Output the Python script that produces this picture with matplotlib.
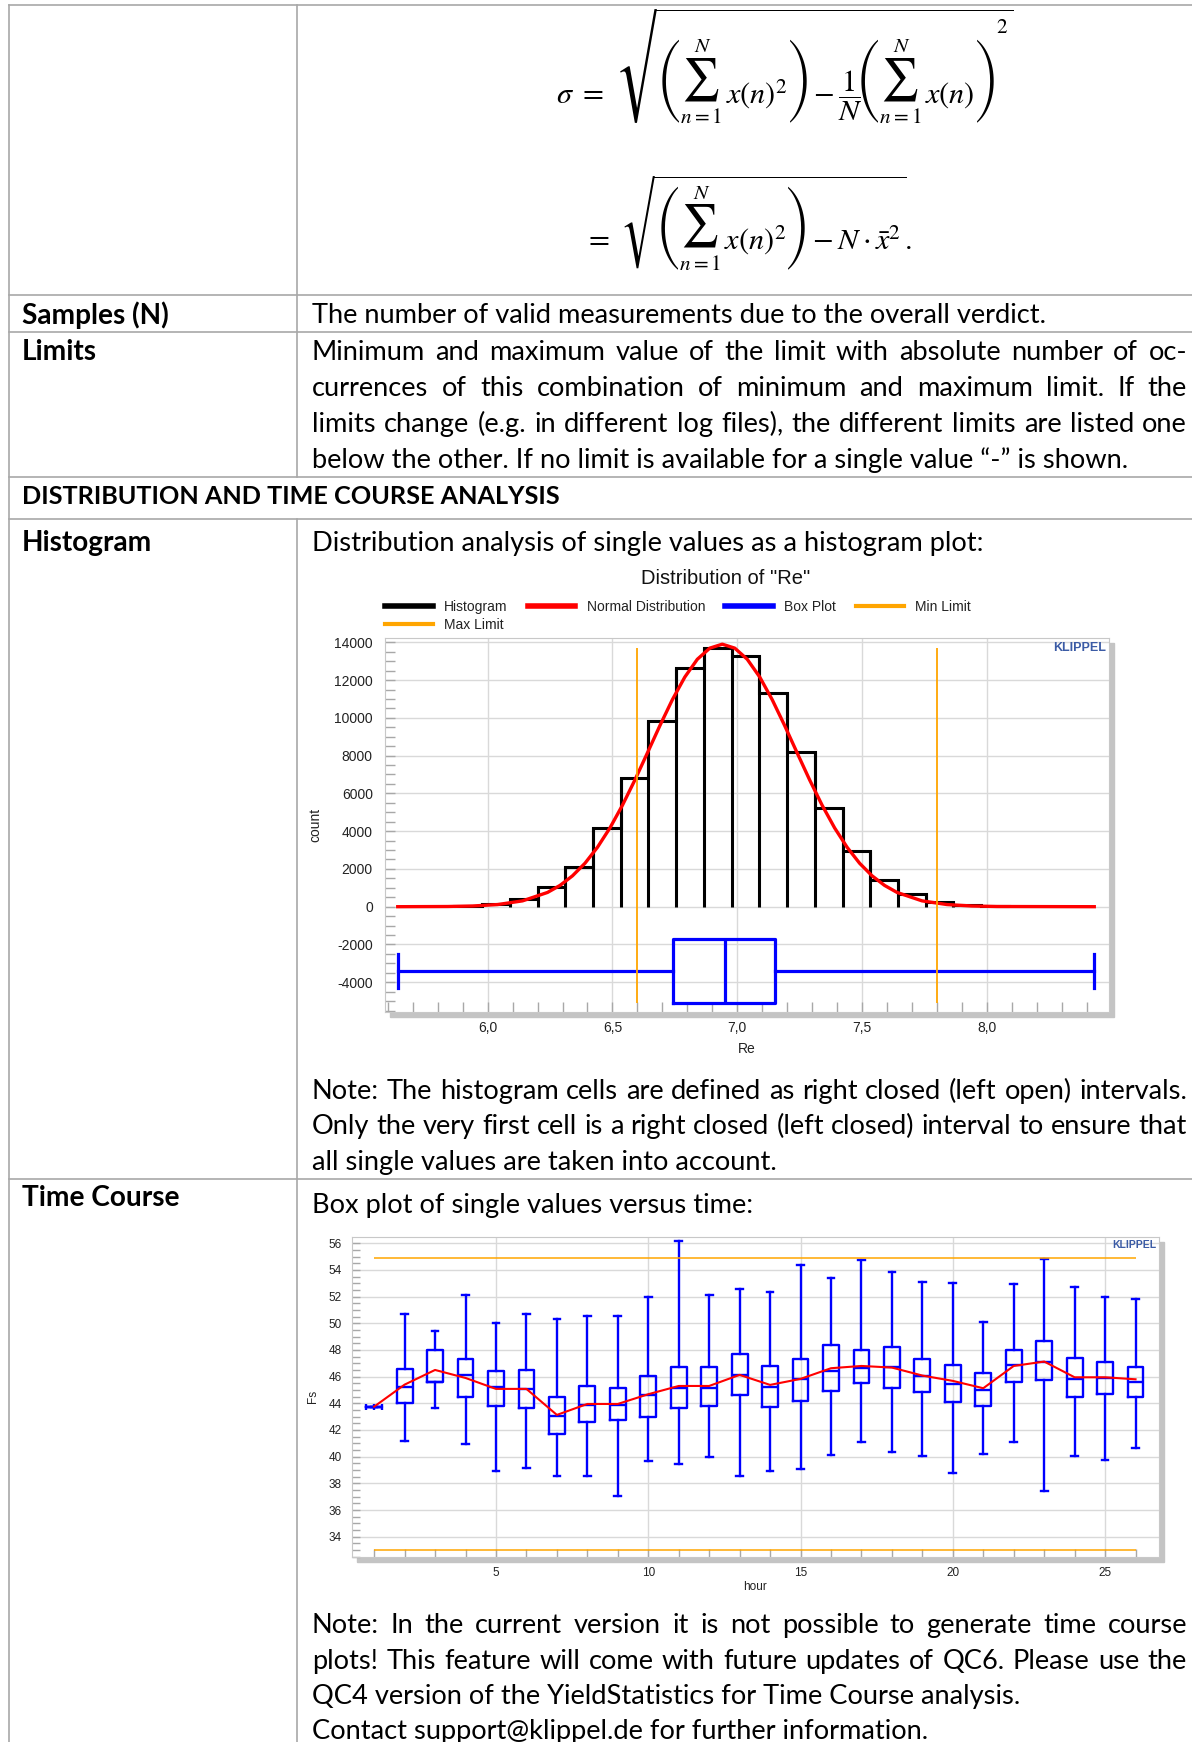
import numpy as np
import matplotlib
matplotlib.use("Agg")
import matplotlib.pyplot as plt
from matplotlib.lines import Line2D
from matplotlib.patches import Rectangle
from matplotlib.font_manager import FontProperties, findfont
from matplotlib.ft2font import FT2Font
from matplotlib.textpath import TextPath
from matplotlib.ticker import MultipleLocator

W, H = 1192, 1742
plt.rcParams["mathtext.fontset"] = "stix"
plt.rcParams["axes.unicode_minus"] = False

BODY = "Lato"
CHART = "Liberation Sans"

# ---------------- histogram data
bin_edges = [5.867, 5.978, 6.089, 6.200, 6.311, 6.422, 6.533, 6.644, 6.755, 6.867,
             6.978, 7.089, 7.200, 7.311, 7.422, 7.533, 7.644, 7.755, 7.866, 7.977, 8.088]
counts = [50, 120, 390, 1020, 2120, 4150, 6830, 9850, 12650, 13680,
          13290, 11300, 8170, 5240, 2965, 1410, 670, 265, 90, 35]
curve_x = [5.64, 5.84, 5.94, 6.04, 6.14, 6.24, 6.29, 6.34, 6.39, 6.44, 6.49, 6.54,
           6.59, 6.64, 6.69, 6.74, 6.79, 6.84, 6.89, 6.94, 6.99, 7.04, 7.09, 7.14,
           7.19, 7.24, 7.29, 7.34, 7.39, 7.44, 7.49, 7.54, 7.59, 7.64, 7.74, 7.84,
           7.94, 8.04, 8.43]
curve_y = [0, 10, 37, 113, 309, 755, 1127, 1635, 2300, 3145, 4170, 5370,
           6710, 8140, 9585, 10960, 12160, 13100, 13690, 13900, 13690, 13100, 12160, 10960,
           9585, 8140, 6710, 5370, 4170, 3145, 2300, 1635, 1127, 755, 309, 113,
           37, 10, 0]
box_re = dict(whislo=5.64, q1=6.742, med=6.949, q3=7.153, whishi=8.43, fliers=[])
box_center = -3400
box_height = 3415
cap_height = 1760
max_limit = 6.6
min_limit = 7.8
hist_xticks = [6.0, 6.5, 7.0, 7.5, 8.0]
hist_xlabels = ["6,0", "6,5", "7,0", "7,5", "8,0"]
hist_yticks = [-4000, -2000, 0, 2000, 4000, 6000, 8000, 10000, 12000, 14000]

# ---------------- time course data
hours = list(range(1, 27))
whis_hi = [43.75, 50.68, 49.43, 52.13, 50.05, 50.68, 50.33, 50.55, 50.55, 51.95, 56.2, 52.13, 52.55,
           52.35, 54.38, 53.43, 54.73, 53.88, 53.13, 53.05, 50.1, 52.98, 54.8, 52.75, 52.0, 51.85]
q3 = [43.75, 46.55, 48.03, 47.33, 46.43, 46.5, 44.48, 45.3, 45.18, 46.08, 46.75, 46.75, 47.68,
      46.83, 47.33, 48.4, 48.03, 48.2, 47.33, 46.9, 46.3, 48.03, 48.65, 47.4, 47.1, 46.75]
median = [43.75, 45.25, 45.6, 46.15, 45.25, 45.1, 43.05, 43.88, 43.85, 44.63, 45.13, 45.13, 46.1,
          45.25, 45.83, 46.43, 46.63, 46.7, 46.08, 45.45, 45.03, 46.85, 47.1, 45.83, 45.88, 45.58]
q1 = [43.75, 44.05, 45.58, 44.48, 43.78, 43.65, 41.7, 42.6, 42.73, 43.0, 43.65, 43.78, 44.6,
      43.7, 44.2, 44.93, 45.53, 45.15, 44.83, 44.13, 43.83, 45.58, 45.73, 44.48, 44.68, 44.48]
whis_lo = [43.75, 41.18, 43.65, 40.93, 38.9, 39.13, 38.58, 38.58, 37.05, 39.68, 39.48, 39.95, 38.58,
           38.9, 39.05, 40.15, 41.08, 40.35, 40.08, 38.75, 40.2, 41.1, 37.43, 40.08, 39.73, 40.65]
mean = [43.75, 45.4, 46.5, 45.9, 45.08, 45.08, 43.13, 43.95, 43.95, 44.68, 45.3, 45.3, 46.13,
        45.38, 45.83, 46.63, 46.8, 46.68, 46.08, 45.68, 45.13, 46.8, 47.13, 45.95, 45.95, 45.8]
tc_limit_hi = 54.9
tc_limit_lo = 33.0
tc_xticks = [5, 10, 15, 20, 25]
tc_yticks = [34, 36, 38, 40, 42, 44, 46, 48, 50, 52, 54, 56]

# ---------------- document text
samples_text = "The number of valid measurements due to the overall verdict."
limits_lines = ["Minimum and maximum value of the limit with absolute number of oc-",
                "currences of this combination of minimum and maximum limit. If the",
                "limits change (e.g. in different log files), the different limits are listed one",
                "below the other. If no limit is available for a single value \u201c-\u201d is shown."]
heading = "DISTRIBUTION AND TIME COURSE ANALYSIS"
hist_intro = "Distribution analysis of single values as a histogram plot:"
hist_note = ["Note: The histogram cells are defined as right closed (left open) intervals.",
             "Only the very first cell is a right closed (left closed) interval to ensure that",
             "all single values are taken into account."]
tc_intro = "Box plot of single values versus time:"
tc_note = ["Note: In the current version it is not possible to generate time course",
           "plots! This feature will come with future updates of QC6. Please use the",
           "QC4 version of the YieldStatistics for Time Course analysis.",
           "Contact support@klippel.de for further information."]


def fx(px):
    return px / W


def fy(py):
    return 1 - py / H


def axrect(l, t, r, b):
    return [l / W, 1 - b / H, (r - l) / W, (b - t) / H]


fig = plt.figure(figsize=(W / 100, H / 100), dpi=100)
fig.patch.set_facecolor("white")
renderer = fig.canvas.get_renderer()

# table grid
grid_c = "#a8a8a8"
for yy in [5, 295.5, 332, 476.5, 519, 1178.5]:
    fig.add_artist(Line2D([fx(8.5), fx(1192)], [fy(yy), fy(yy)], transform=fig.transFigure,
                          color=grid_c, lw=1.2))
fig.add_artist(Line2D([fx(8.5), fx(8.5)], [fy(5), fy(1742)], transform=fig.transFigure, color=grid_c, lw=1.2))
for y0, y1 in [(5, 476.5), (519, 1742)]:
    fig.add_artist(Line2D([fx(296.5), fx(296.5)], [fy(y0), fy(y1)], transform=fig.transFigure,
                          color=grid_c, lw=1.2))


def width_px(s, size, weight="normal"):
    fp = FontProperties(family=BODY, size=size, weight=weight)
    return renderer.get_text_width_height_descent(s, fp, ismath=False)[0]


body_fs = 20 * 739 / width_px(samples_text, 20)
label_fs = 20 * 147 / width_px("Samples (N)", 20, "bold")
head_fs = 20 * 539 / width_px(heading, 20, "bold")


def put_line(s, yc, x0=312, x1=1187, justify=False, weight="normal", fs=None):
    if fs is None:
        fs = body_fs
    base = yc + 0.33 * fs * 100 / 72
    if not justify:
        fig.text(fx(x0), fy(base), s, fontsize=fs, family=BODY, weight=weight, va="baseline", ha="left")
        return
    words = s.split(" ")
    ws = [width_px(w_, fs, weight) for w_ in words]
    gap = (x1 - x0 - sum(ws)) / (len(words) - 1)
    x = x0
    for w_, ww in zip(words, ws):
        fig.text(fx(x), fy(base), w_, fontsize=fs, family=BODY, weight=weight, va="baseline", ha="left")
        x += ww + gap


put_line("Samples (N)", 314.4, x0=22, weight="bold", fs=label_fs)
put_line(samples_text, 314.4)
put_line("Limits", 351, x0=22, weight="bold", fs=label_fs)
for i, (ln, yy) in enumerate(zip(limits_lines, [351, 386.6, 423.3, 458.8])):
    put_line(ln, yy, justify=i < 3)
put_line(heading, 495.5, x0=22, weight="bold", fs=head_fs)
put_line("Histogram", 542, x0=22, weight="bold", fs=label_fs)
put_line(hist_intro, 542)
for i, (ln, yy) in enumerate(zip(hist_note, [1089.8, 1125.4, 1161])):
    put_line(ln, yy, justify=i < 2)
put_line("Time Course", 1196.4, x0=22, weight="bold", fs=label_fs)
put_line(tc_intro, 1204.2)
for i, (ln, yy) in enumerate(zip(tc_note, [1624.2, 1659.7, 1695.2, 1729.7])):
    put_line(ln, yy, justify=i < 2)


# ---------------- formula (one mathtext string per line)
def sum_ratio(family):
    try:
        path = findfont(FontProperties(family=family), fallback_to_default=False)
        if FT2Font(path).get_char_index(0x2211) == 0:
            return None
        ext = TextPath((0, 0), "\u2211", size=100, prop=FontProperties(family=family)).get_extents()
        return ext.height / 100
    except Exception:
        return None


sum_font, best = "STIXGeneral", None
for fam in ["STIXSizeOneSym", "STIXSizeTwoSym", "STIXSizeThreeSym"]:
    r = sum_ratio(fam)
    if r is not None and (best is None or abs(r - 2.1) < abs(best - 2.1)):
        sum_font, best = fam, r

plt.rcParams["mathtext.rm"] = "STIXGeneral"
plt.rcParams["mathtext.it"] = "STIXGeneral:italic"
plt.rcParams["mathtext.bf"] = "STIXGeneral:bold"
plt.rcParams["mathtext.sf"] = sum_font
plt.rcParams["mathtext.fallback"] = "stix"


def mwidth(s, mff="custom"):
    fp = FontProperties(size=20, math_fontfamily=mff)
    return renderer.get_text_width_height_descent(s, fp, ismath=True)[0]


S = r"\overset{N}{\underset{n=1}{\mathsf{" + "\u2211" + r"}}}"
G1 = r"\left(" + S + r"\,x(n)^2\right)"
G2 = r"\left(" + S + r"\,x(n)\right)"
candidates = []
try:
    # square of the second bracket placed high, at its right end
    w_body = mwidth("$" + G2 + "$")
    w_two = mwidth("$2$")
    w_m = mwidth("$m$")
    delta = 0.6 * 20 * 100 / 72
    k = max((w_body + 2 * delta) / 0.7 - w_two, 0) / w_m
    kn = delta / w_m
    sq = r"\overset{\hspace{%.3f}2}{%s}" % (k, G2)
    candidates.append((r"$\sigma\ =\ \sqrt{" + G1 + r"-\dfrac{1}{N}\hspace{-%.3f}" % kn + sq + "}$",
                       "custom"))
    candidates.append((r"$\sigma\ =\ \sqrt{" + G1 + r"-\dfrac{1}{N}" + sq + "}$", "custom"))
except Exception:
    pass
candidates.append((r"$\sigma\ =\ \sqrt{" + G1 + r"-\dfrac{1}{N}{" + G2 + r"}^2}$", "custom"))
candidates.append((r"$\sigma\ =\ \sqrt{\left(\sum_{n=1}^{N}x(n)^2\right)-\dfrac{1}{N}"
                   r"{\left(\sum_{n=1}^{N}x(n)\right)}^2}$", "stix"))
line2_opts = {"custom": r"$=\ \sqrt{" + G1 + r"-N\cdot\bar{x}^2}.$",
              "stix": r"$=\ \sqrt{\left(\sum_{n=1}^{N}x(n)^2\right)-N\cdot\bar{x}^2}.$"}
line1, mff = candidates[-1]
for cand, m in candidates:
    try:
        mwidth(cand, m)
        mwidth(line2_opts[m], m)
        line1, mff = cand, m
        break
    except Exception:
        continue
line2 = line2_opts[mff]

fs1 = 20 * 458 / mwidth(line1, mff)
fs2 = 20 * 327.5 / mwidth(line2, mff)
fsm = 0.5 * (fs1 + fs2)
fig.text(fx(555.5), fy(66), line1, fontsize=fsm, ha="left", va="center", math_fontfamily=mff)
fig.text(fx(584), fy(223), line2, fontsize=fsm, ha="left", va="center", math_fontfamily=mff)

# ---------------- histogram chart
hl, ht, hr, hb = 385, 637.7, 1109, 1011.7
fig.add_artist(Rectangle((fx(hl + 5), fy(hb + 5)), (hr - hl) / W, (hb - ht) / H,
                         transform=fig.transFigure, color="#c4c4c4", zorder=-1))
axh = fig.add_axes(axrect(hl, ht, hr, hb))
axh.set_facecolor("white")
axh.stairs(counts, bin_edges, color="black", lw=2.2, zorder=3)
c = np.array(counts)
axh.vlines(bin_edges[1:-1], 0, np.maximum(c[:-1], c[1:]), color="black", lw=2.2, zorder=3)
axh.plot(curve_x, curve_y, color="#ff0000", lw=2.4, zorder=4)
bprops = dict(color="#0000ff", lw=2.3)
try:
    axh.bxp([box_re], positions=[box_center], widths=box_height, capwidths=cap_height,
            orientation="horizontal", manage_ticks=False, showfliers=False,
            boxprops=bprops, whiskerprops=bprops, capprops=bprops, medianprops=bprops)
except TypeError:
    axh.bxp([box_re], positions=[box_center], widths=box_height, capwidths=cap_height,
            vert=False, manage_ticks=False, showfliers=False,
            boxprops=bprops, whiskerprops=bprops, capprops=bprops, medianprops=bprops)
axh.vlines([max_limit, min_limit], box_center - box_height / 2, max(counts),
           color="#ffa500", lw=1.3, zorder=5)
axh.set_xlim(5.589, 8.489)
axh.set_ylim(-5560, 14243)
axh.set_xticks(hist_xticks, hist_xlabels)
axh.set_yticks(hist_yticks, [str(v) for v in hist_yticks])
axh.xaxis.set_minor_locator(MultipleLocator(0.1))
axh.yaxis.set_minor_locator(MultipleLocator(500))
axh.tick_params(which="both", direction="in", color="#a8a8a8", length=7, width=1)
axh.tick_params(axis="both", which="major", labelsize=10, labelcolor="#222222")
axh.tick_params(axis="y", pad=8.8)
axh.tick_params(axis="x", pad=6.5)
for lab in axh.get_xticklabels() + axh.get_yticklabels():
    lab.set_family(CHART)
axh.grid(True, which="major", color="#d9d9d9", lw=1)
axh.set_axisbelow(True)
for sp in axh.spines.values():
    sp.set_color("#c8c8c8")
axh.set_xlabel("Re", fontsize=10, family=CHART, color="#222222")
axh.xaxis.set_label_coords(0.5, -0.08)
axh.set_ylabel("count", fontsize=10, family=CHART, color="#222222")
axh.yaxis.set_label_coords(-0.087, 0.5)
axh.text(1 - 3 / 724, 1 - 10 / 374, "KLIPPEL", transform=axh.transAxes, ha="right", va="center",
         fontsize=9, weight="bold", family=CHART, color="#3b5ba5")
fig.text(fx(726), fy(578), 'Distribution of "Re"', ha="center", va="center", fontsize=14.5,
         family=CHART, color="#111111")
leg_handles = [Line2D([], [], color="black", lw=4), Line2D([], [], color="#ffa500", lw=3),
               Line2D([], [], color="#ff0000", lw=4), Line2D([], [], color="#0000ff", lw=4),
               Line2D([], [], color="#ffa500", lw=3)]
leg_labels = ["Histogram", "Max Limit", "Normal Distribution", "Box Plot", "Min Limit"]
fig.legend(leg_handles, leg_labels, loc="upper left", bbox_to_anchor=(fx(385), fy(600)), ncol=4,
           frameon=False, prop=FontProperties(family=CHART, size=10), handlelength=3.45,
           handletextpad=0.8, columnspacing=1.44, labelspacing=0.3, borderpad=0, borderaxespad=0,
           labelcolor="#222222")

# ---------------- time course chart
tl, tt, tr, tb = 351.7, 1236.7, 1159, 1556.7
fig.add_artist(Rectangle((fx(tl + 5), fy(tb + 5)), (tr - tl) / W, (tb - tt) / H,
                         transform=fig.transFigure, color="#c4c4c4", zorder=-1))
axt = fig.add_axes(axrect(tl, tt, tr, tb))
axt.set_facecolor("white")
stats = [dict(whislo=a, q1=b, med=m, q3=d, whishi=e, fliers=[])
         for a, b, m, d, e in zip(whis_lo, q1, median, q3, whis_hi)]
box_w = 0.52
tprops = dict(color="#0000ff", lw=1.7)
axt.bxp(stats, positions=hours, widths=box_w, capwidths=0.22, manage_ticks=False, showfliers=False,
        boxprops=tprops, whiskerprops=tprops, capprops=tprops, medianprops=tprops)
axt.plot([hours[0] - box_w / 2, hours[0], hours[0] + box_w / 2], [median[0]] * 3, ls="none",
         marker="|", ms=5, mew=1.7, color="#0000ff")
axt.plot(hours, mean, color="#ff0000", lw=1.5, zorder=4)
axt.hlines([tc_limit_hi, tc_limit_lo], hours[0], hours[-1], color="#ffa500", lw=1.1, zorder=3)
axt.set_xlim(0.263, 26.77)
axt.set_ylim(32.5, 56.49)
axt.set_xticks(tc_xticks, [str(v) for v in tc_xticks])
axt.set_yticks(tc_yticks, [str(v) for v in tc_yticks])
axt.xaxis.set_minor_locator(MultipleLocator(1))
axt.yaxis.set_minor_locator(MultipleLocator(0.5))
axt.tick_params(which="both", direction="in", color="#a8a8a8", length=6, width=1)
axt.tick_params(axis="both", which="major", labelsize=8.5, labelcolor="#222222", pad=7.2)
for lab in axt.get_xticklabels() + axt.get_yticklabels():
    lab.set_family(CHART)
axt.grid(True, which="major", color="#d9d9d9", lw=1)
axt.set_axisbelow(True)
for sp in axt.spines.values():
    sp.set_color("#c8c8c8")
axt.set_xlabel("hour", fontsize=8.5, family=CHART, color="#222222")
axt.xaxis.set_label_coords(0.5, -0.076)
axt.set_ylabel("Fs", fontsize=8.5, family=CHART, color="#222222")
axt.yaxis.set_label_coords(-0.0405, 0.5)
axt.text(1 - 2.3 / 807.3, 1 - 8.3 / 320, "KLIPPEL", transform=axt.transAxes, ha="right", va="center",
         fontsize=7.5, weight="bold", family=CHART, color="#3b5ba5")

fig.savefig("out.png", dpi=100, facecolor="white")
